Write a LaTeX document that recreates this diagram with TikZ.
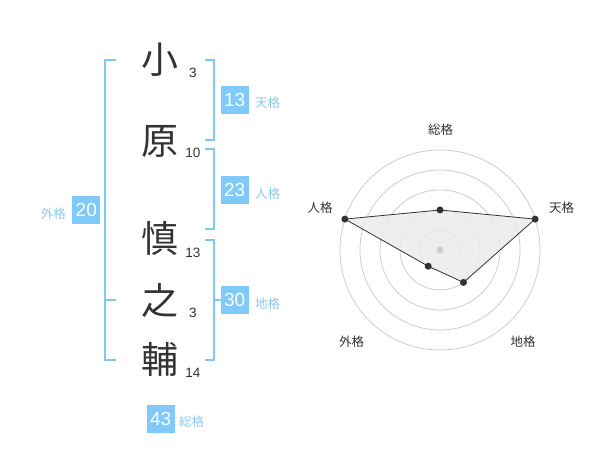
\documentclass[tikz,border=0pt]{standalone}
\usepackage{fontspec}
\setmainfont{Liberation Sans}
\newfontfamily\jp{Noto Sans CJK JP}
\definecolor{brk}{RGB}{125,200,245}
\definecolor{boxc}{RGB}{128,202,250}
\definecolor{lblc}{RGB}{140,200,240}
\definecolor{ink}{RGB}{51,51,51}
\definecolor{ring}{RGB}{205,205,205}
\tikzset{
  bigchar/.style={font=\jp\fontsize{37}{37}\selectfont, text=ink, inner sep=0pt},
  strokes/.style={font=\fontsize{13.5}{13.5}\selectfont, text=ink, inner sep=0pt},
  numbox/.style={fill=boxc, text=white, minimum width=28pt, minimum height=28pt, inner sep=0pt, font=\fontsize{19}{19}\selectfont},
  kaku/.style={font=\jp\fontsize{12.5}{12.5}\selectfont, text=lblc, inner sep=0pt},
  bracket/.style={draw=brk, line width=2pt},
  ringc/.style={draw=ring, line width=0.8pt},
  axlbl/.style={font=\jp\fontsize{12.5}{12.5}\selectfont, text=ink, inner sep=0pt},
  dot/.style={circle, fill=ink, inner sep=0pt, minimum size=7pt},
}
\begin{document}
\begin{tikzpicture}[x=1pt,y=-1pt]
\useasboundingbox (0,0) rectangle (600,470);
% characters
\node[bigchar] (c1) at (160,60) {小};
\node[bigchar] (c2) at (160,141) {原};
\node[bigchar] (c3) at (160,238) {慎};
\node[bigchar] (c4) at (160,300) {之};
\node[bigchar] (c5) at (160,359) {輔};
% stroke counts
\node[strokes] (s1) at (193,73) {3};
\node[strokes] (s2) at (193,153) {10};
\node[strokes] (s3) at (193,253) {13};
\node[strokes] (s4) at (193,313) {3};
\node[strokes] (s5) at (193,373) {14};
% brackets
\draw[bracket] (116,60) -- (105,60) -- (105,360) -- (116,360);
\draw[bracket] (105,300) -- (116,300);
\draw[bracket] (205,60) -- (214,60) -- (214,140) -- (205,140);
\draw[bracket] (205,149) -- (214,149) -- (214,229) -- (205,229);
\draw[bracket] (205,240) -- (214,240) -- (214,360) -- (205,360);
\draw[bracket] (214,300) -- (221,300);
% number boxes
\node[numbox] (b13) at (234.7,100) {13};
\node[kaku, anchor=west] (k13) at (b13.east) [xshift=6pt, yshift=-3pt] {天格};
\node[numbox] (b23) at (234.7,190.3) {23};
\node[kaku, anchor=west] (k23) at (b23.east) [xshift=6pt, yshift=-3pt] {人格};
\node[numbox] (b30) at (234.7,300.3) {30};
\node[kaku, anchor=west] (k30) at (b30.east) [xshift=6pt, yshift=-3pt] {地格};
\node[numbox] (b20) at (86.3,210.3) {20};
\node[kaku, anchor=east] (k20) at (b20.west) [xshift=-6pt, yshift=-3pt] {外格};
\node[numbox] (b43) at (160.7,419) {43};
\node[kaku, anchor=west] (k43) at (b43.east) [xshift=4pt, yshift=-3pt] {総格};
% radar
\coordinate (O) at (440,250);
\foreach \r in {20,40,60,80,100} \draw[ringc] (O) circle (\r);
\coordinate (pS) at (440,210);
\coordinate (pT) at (535.1,219.1);
\coordinate (pC) at (463.5,282.4);
\coordinate (pG) at (428.2,266.2);
\coordinate (pJ) at (344.9,219.1);
\fill[black!8, opacity=0.85] (pS) -- (pT) -- (pC) -- (pG) -- (pJ) -- cycle;
\node[circle, fill=ring, inner sep=0pt, minimum size=7pt] (ctr) at (O) {};
\draw[ink, line width=0.8pt] (pS) -- (pT) -- (pC) -- (pG) -- (pJ) -- cycle;
\foreach \p in {pS,pT,pC,pG,pJ} \node[dot] at (\p) {};
\node[axlbl] (lS) at (440.7,130) {総格};
\node[axlbl] (lT) at (561.7,208) {天格};
\node[axlbl] (lJ) at (320,208) {人格};
\node[axlbl] (lG) at (351.7,341.7) {外格};
\node[axlbl] (lC) at (523,341.7) {地格};
\end{tikzpicture}
\end{document}
